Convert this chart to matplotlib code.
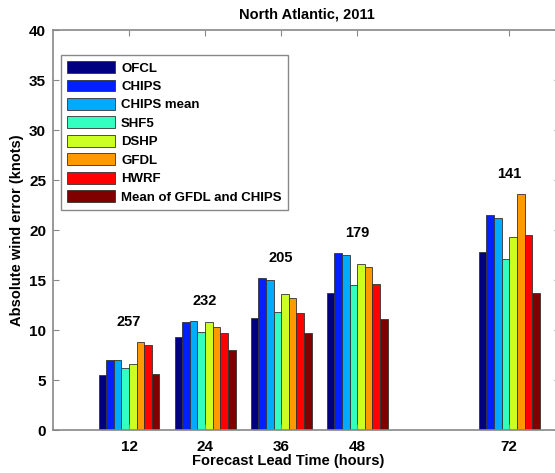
import numpy as np
import matplotlib
matplotlib.use('Agg')
import matplotlib.pyplot as plt

plt.rcParams['font.family'] = ['Liberation Sans', 'DejaVu Sans']
plt.rcParams['font.weight'] = 'bold'

lead_times = [12, 24, 36, 48, 72]
n_cases = [257, 232, 205, 179, 141]
models = ['OFCL', 'CHIPS', 'CHIPS mean', 'SHF5', 'DSHP', 'GFDL', 'HWRF',
          'Mean of GFDL and CHIPS']
colors = ['#000080', '#0020ff', '#00aaff', '#33ffc0', '#ccff22',
          '#ff9900', '#ff0000', '#800000']

# absolute wind errors (knots) per model, one value per lead time
ofcl = [5.5, 9.3, 11.2, 13.7, 17.8]
chips = [7.0, 10.8, 15.2, 17.7, 21.5]
chips_mean = [7.0, 10.9, 15.0, 17.5, 21.2]
shf5 = [6.2, 9.8, 11.8, 14.5, 17.1]
dshp = [6.6, 10.8, 13.6, 16.6, 19.3]
gfdl = [8.8, 10.3, 13.2, 16.3, 23.6]
hwrf = [8.5, 9.7, 11.7, 14.6, 19.5]
gfdl_chips = [5.6, 8.0, 9.7, 11.1, 13.7]

errs = np.array([ofcl, chips, chips_mean, shf5, dshp, gfdl, hwrf, gfdl_chips]).T

fig = plt.figure(figsize=(5.55, 4.73), dpi=100)
ax = fig.add_axes([53 / 555, 43 / 473, 507 / 555, 400 / 473])

nm = len(models)
group_w = 0.8 * 12
bw = group_w / nm
x = np.array(lead_times, dtype=float)
for j in range(nm):
    ax.bar(x - group_w / 2 + bw * (j + 0.5), errs[:, j], width=bw,
           color=colors[j], edgecolor='#333333', linewidth=0.6, label=models[j])

# number of cases above each group
for i in range(len(lead_times)):
    ax.text(x[i], errs[i].max() + 2, str(n_cases[i]), ha='center', va='center',
            fontsize=10.5, fontweight='bold')

ax.set_xlim(0, 80)
ax.set_ylim(0, 40)
ax.set_xticks(lead_times)
ax.set_yticks(range(0, 41, 5))
ax.tick_params(direction='in', length=4, color='#888888', labelsize=11,
               top=True, right=True)
ax.tick_params(axis='x', pad=7)
ax.tick_params(axis='y', pad=5)
for s in ax.spines.values():
    s.set_color('#888888')
    s.set_linewidth(1.2)

ax.set_title('North Atlantic, 2011', fontsize=10.5, fontweight='bold', pad=8)
ax.set_xlabel('Forecast Lead Time (hours)', fontsize=10.5, fontweight='bold')
ax.set_ylabel('Absolute wind error (knots)', fontsize=10.5, fontweight='bold')
ax.xaxis.set_label_coords((288 - 53) / 507, -0.06)
ax.yaxis.set_label_coords(-0.058, 0.5)

leg = ax.legend(loc='upper left', bbox_to_anchor=(0.016, 0.937), fontsize=9.5,
                handlelength=3.6, handleheight=1.0, labelspacing=0.38,
                handletextpad=0.5, borderpad=0.45, borderaxespad=0,
                fancybox=False, framealpha=1)
leg.get_frame().set_edgecolor('#888888')
leg.get_frame().set_linewidth(1.0)

fig.savefig('out.png', dpi=100)
